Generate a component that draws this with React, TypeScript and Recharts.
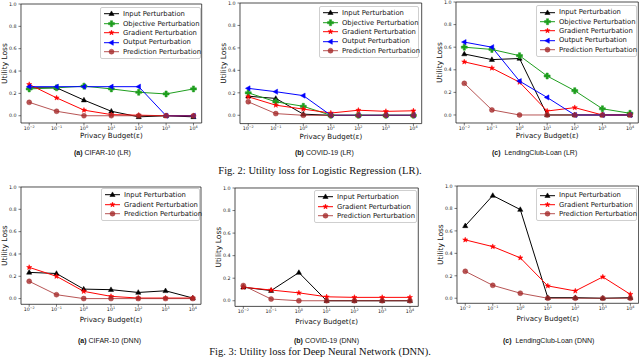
import React from 'react';
import { LineChart, Line, XAxis, YAxis, Legend, ReferenceArea } from 'recharts';

// privacy budget exponents: 10^-2 ... 10^4
const EXPONENTS = [-2, -1, 0, 1, 2, 3, 4];
const Y_TICKS = [0, 0.2, 0.4, 0.6, 0.8, 1.0];

// Fig. 2 - Logistic Regression
const cifarLrInput = [0.25, 0.25, 0.14, 0.04, -0.01, 0.0, -0.01];
const cifarLrObjective = [0.24, 0.25, 0.265, 0.24, 0.21, 0.195, 0.24];
const cifarLrGradient = [0.28, 0.16, 0.05, 0.01, 0.005, 0.0, 0.0];
const cifarLrOutput = [0.26, 0.26, 0.26, 0.26, 0.26, 0.0, 0.0];
const cifarLrPrediction = [0.12, 0.04, 0.0, 0.0, 0.0, 0.0, 0.0];

const covidLrInput = [0.17, 0.15, 0.01, 0.0, 0.0, 0.0, 0.0];
const covidLrObjective = [0.2, 0.12, 0.08, 0.0, 0.0, 0.0, 0.0];
const covidLrGradient = [0.165, 0.09, 0.055, 0.02, 0.045, 0.035, 0.04];
const covidLrOutput = [0.24, 0.21, 0.175, 0.0, 0.0, 0.0, 0.0];
const covidLrPrediction = [0.12, 0.015, 0.0, 0.0, 0.0, 0.0, 0.0];

const loanLrInput = [0.54, 0.49, 0.5, 0.0, 0.0, 0.0, 0.0];
const loanLrObjective = [0.6, 0.58, 0.525, 0.345, 0.215, 0.055, 0.015];
const loanLrGradient = [0.47, 0.415, 0.29, 0.035, 0.065, 0.0, 0.0];
const loanLrOutput = [0.645, 0.6, 0.3, 0.155, 0.0, 0.0, 0.0];
const loanLrPrediction = [0.28, 0.045, 0.0, 0.0, 0.0, 0.0, 0.0];

// Fig. 3 - Deep Neural Network
const cifarDnnInput = [0.235, 0.225, 0.085, 0.08, 0.055, 0.07, 0.005];
const cifarDnnGradient = [0.28, 0.2, 0.065, 0.02, 0.005, 0.005, 0.005];
const cifarDnnPrediction = [0.155, 0.035, 0.0, 0.0, 0.0, 0.0, 0.0];

const covidDnnInput = [0.12, 0.09, 0.25, 0.0, 0.0, 0.0, 0.0];
const covidDnnGradient = [0.12, 0.095, 0.07, 0.035, 0.03, 0.03, 0.03];
const covidDnnPrediction = [0.135, 0.015, 0.0, 0.0, 0.0, 0.0, 0.0];

const loanDnnInput = [0.645, 0.915, 0.79, 0.005, 0.005, 0.0, 0.005];
const loanDnnGradient = [0.52, 0.46, 0.36, 0.11, 0.065, 0.19, 0.035];
const loanDnnPrediction = [0.24, 0.115, 0.045, 0.0, 0.0, 0.0, 0.0];

type MarkerKind = 'triangle' | 'plus' | 'star' | 'left' | 'circle';

const SERIES: Record<string, { name: string; color: string; marker: MarkerKind; opacity?: number }> = {
  input: { name: 'Input Perturbation', color: '#000000', marker: 'triangle' },
  objective: { name: 'Objective Perturbation', color: '#1e9e1e', marker: 'plus' },
  gradient: { name: 'Gradient Perturbation', color: '#ff0000', marker: 'star' },
  output: { name: 'Output Perturbation', color: '#0000ff', marker: 'left' },
  prediction: { name: 'Prediction Perturbation', color: '#a52a2a', marker: 'circle', opacity: 0.8 },
};

const FONT = '"DejaVu Sans", sans-serif';
const X_MIN = -2.3;
const X_MAX = 4.3;
const YW = 24;
const XH = 20;
const MT = 2;
const MR = 1;

function Marker({ kind, cx, cy, color, opacity = 1 }: { kind: MarkerKind; cx: number; cy: number; color: string; opacity?: number }) {
  const common = { fill: color, stroke: color, strokeWidth: 0.5, fillOpacity: opacity, strokeOpacity: opacity };
  if (kind === 'triangle') {
    return <polygon {...common} points={`${cx},${cy - 2.8} ${cx - 2.6},${cy + 1.8} ${cx + 2.6},${cy + 1.8}`} />;
  }
  if (kind === 'left') {
    return <polygon {...common} points={`${cx - 2.8},${cy} ${cx + 1.8},${cy - 2.6} ${cx + 1.8},${cy + 2.6}`} />;
  }
  if (kind === 'plus') {
    const a = 3;
    const b = 1.1;
    const pts = [
      [-b, -a], [b, -a], [b, -b], [a, -b], [a, b], [b, b], [b, a], [-b, a], [-b, b], [-a, b], [-a, -b], [-b, -b],
    ]
      .map(([dx, dy]) => `${cx + dx},${cy + dy}`)
      .join(' ');
    return <polygon {...common} points={pts} />;
  }
  if (kind === 'star') {
    const pts: string[] = [];
    for (let i = 0; i < 10; i++) {
      const r = i % 2 === 0 ? 2.7 : 1.1;
      const ang = -Math.PI / 2 + (i * Math.PI) / 5;
      pts.push(`${cx + r * Math.cos(ang)},${cy + r * Math.sin(ang)}`);
    }
    return <polygon {...common} points={pts.join(' ')} />;
  }
  return <circle {...common} cx={cx} cy={cy} r={2.5} />;
}

const ExpTick = (props: any) => {
  const { x, y, payload } = props;
  const e = payload.value;
  const sup = e < 0 ? `\u2212${-e}` : `${e}`;
  return (
    <text x={x} y={y + 3.2} textAnchor="middle" fontSize={4.8} fill="#222" fontFamily={FONT}>
      <tspan>10</tspan>
      <tspan dy={-2} fontSize={3.4}>
        {sup}
      </tspan>
    </text>
  );
};

interface Panel {
  frame: { x: number; y: number; w: number; h: number };
  yMin: number;
  labelDrop: number;
  legend: { left: number; top: number; width: number };
  series: Record<string, number[]>;
}

const PANELS: Panel[] = [
  {
    frame: { x: 21, y: 4.3, w: 180.7, h: 119 },
    yMin: -0.065,
    labelDrop: 15.3,
    legend: { left: 100, top: 7, width: 101 },
    series: { input: cifarLrInput, objective: cifarLrObjective, gradient: cifarLrGradient, output: cifarLrOutput, prediction: cifarLrPrediction },
  },
  {
    frame: { x: 240, y: 2.7, w: 181.7, h: 120.6 },
    yMin: -0.074,
    labelDrop: 15.3,
    legend: { left: 319, top: 6, width: 100 },
    series: { input: covidLrInput, objective: covidLrObjective, gradient: covidLrGradient, output: covidLrOutput, prediction: covidLrPrediction },
  },
  {
    frame: { x: 455.7, y: 1.7, w: 182.3, h: 121 },
    yMin: -0.071,
    labelDrop: 15.3,
    legend: { left: 536, top: 5, width: 101 },
    series: { input: loanLrInput, objective: loanLrObjective, gradient: loanLrGradient, output: loanLrOutput, prediction: loanLrPrediction },
  },
  {
    frame: { x: 21, y: 186.7, w: 180, h: 117.3 },
    yMin: -0.051,
    labelDrop: 17.5,
    legend: { left: 101, top: 188, width: 99 },
    series: { input: cifarDnnInput, gradient: cifarDnnGradient, prediction: cifarDnnPrediction },
  },
  {
    frame: { x: 235, y: 188.3, w: 183.3, h: 118.4 },
    yMin: -0.05,
    labelDrop: 17.5,
    legend: { left: 314, top: 190, width: 103 },
    series: { input: covidDnnInput, gradient: covidDnnGradient, prediction: covidDnnPrediction },
  },
  {
    frame: { x: 456.7, y: 186, w: 181.6, h: 117.3 },
    yMin: -0.045,
    labelDrop: 17.5,
    legend: { left: 536, top: 188, width: 101 },
    series: { input: loanDnnInput, gradient: loanDnnGradient, prediction: loanDnnPrediction },
  },
];

const CAPTIONS = [
  { tag: '(a)', text: 'CIFAR-10 (LR)', left: 74, top: 149 },
  { tag: '(b)', text: 'COVID-19 (LR)', left: 295, top: 149 },
  { tag: '(c)', text: ' LendingClub-Loan (LR)', left: 492, top: 149 },
  { tag: '(a)', text: 'CIFAR-10 (DNN)', left: 78, top: 337 },
  { tag: '(b)', text: 'COVID-19 (DNN)', left: 294, top: 337 },
  { tag: '(c)', text: ' LendingClub-Loan (DNN)', left: 503, top: 337 },
];

const FIG_TITLES = [
  { text: 'Fig. 2: Utility loss for Logistic Regression (LR).', top: 165 },
  { text: 'Fig. 3: Utility loss for Deep Neural Network (DNN).', top: 346 },
];

function LegendBox({ keys, width }: { keys: string[]; width: number }) {
  return (
    <div
      style={{
        width,
        boxSizing: 'border-box',
        border: '0.8px solid #cfcfcf',
        borderRadius: 2,
        background: 'rgba(255,255,255,0.85)',
        padding: '1.5px 0 1.5px 0',
        fontFamily: FONT,
        fontSize: 6.8,
        color: '#111',
      }}
    >
      {keys.map(k => {
        const s = SERIES[k];
        return (
          <div key={k} style={{ display: 'flex', alignItems: 'center', height: 9.4, whiteSpace: 'nowrap' }}>
            <svg width={22} height={9.4} style={{ flex: 'none' }}>
              <line x1={3} x2={18} y1={4.7} y2={4.7} stroke={s.color} strokeWidth={1} strokeOpacity={s.opacity ?? 1} />
              <Marker kind={s.marker} cx={10.5} cy={4.7} color={s.color} opacity={s.opacity} />
            </svg>
            <span>{s.name}</span>
          </div>
        );
      })}
    </div>
  );
}

function PanelChart({ panel }: { panel: Panel }) {
  const { frame, yMin, legend, series, labelDrop } = panel;
  const keys = Object.keys(series);
  const data = EXPONENTS.map((x, i) => {
    const row: Record<string, number> = { x };
    keys.forEach(k => {
      row[k] = series[k][i];
    });
    return row;
  });
  const left = frame.x - YW;
  const top = frame.y - MT;
  const width = YW + frame.w + MR;
  const height = MT + frame.h + XH;

  return (
    <div style={{ position: 'absolute', left, top }}>
      <LineChart width={width} height={height} data={data} margin={{ top: MT, right: MR, left: 0, bottom: 0 }}>
        <XAxis
          type="number"
          dataKey="x"
          domain={[X_MIN, X_MAX]}
          ticks={EXPONENTS}
          allowDataOverflow
          height={XH}
          axisLine={false}
          tickSize={2.5}
          tickMargin={1}
          tickLine={{ stroke: '#222', strokeWidth: 0.6 }}
          tick={<ExpTick />}
          label={{
            value: 'Privacy Budget(\u03b5)',
            position: 'insideBottom',
            offset: XH - labelDrop,
            style: { fontSize: 7.1, fill: '#111', fontFamily: FONT },
          }}
        />
        <YAxis
          type="number"
          domain={[yMin, 1]}
          ticks={Y_TICKS}
          allowDataOverflow
          width={YW}
          axisLine={false}
          tickSize={2.5}
          tickMargin={2}
          tickLine={{ stroke: '#222', strokeWidth: 0.6 }}
          tick={{ fontSize: 4.8, fill: '#222', fontFamily: FONT }}
          tickFormatter={(v: number) => v.toFixed(1)}
          label={{
            value: 'Utility Loss',
            angle: -90,
            position: 'insideLeft',
            offset: YW - 16.5,
            style: { textAnchor: 'middle', fontSize: 7.5, fill: '#111', fontFamily: FONT },
          }}
        />
        <ReferenceArea x1={X_MIN} x2={X_MAX} y1={yMin} y2={1} fill="none" stroke="#222" strokeWidth={0.8} />
        {keys.map(k => {
          const s = SERIES[k];
          return (
            <Line
              key={k}
              type="linear"
              dataKey={k}
              name={s.name}
              stroke={s.color}
              strokeOpacity={s.opacity ?? 1}
              strokeWidth={1}
              isAnimationActive={false}
              activeDot={false}
              dot={(p: any) => (
                <Marker key={`${k}-${p.index}`} kind={s.marker} cx={p.cx} cy={p.cy} color={s.color} opacity={s.opacity} />
              )}
            />
          );
        })}
        <Legend
          layout="vertical"
          align="center"
          verticalAlign="middle"
          wrapperStyle={{ position: 'absolute', left: legend.left - left, top: legend.top - top, width: legend.width }}
          content={() => <LegendBox keys={keys} width={legend.width} />}
        />
      </LineChart>
    </div>
  );
}

export default function App() {
  return (
    <div style={{ position: 'relative', width: 640, height: 358, overflow: 'hidden', background: '#fff' }}>
      <style>{'body{margin:0}'}</style>
      {PANELS.map((p, i) => (
        <PanelChart key={i} panel={p} />
      ))}
      {CAPTIONS.map((c, i) => (
        <div
          key={i}
          style={{
            position: 'absolute',
            left: c.left,
            top: c.top,
            fontFamily: '"Liberation Sans", Arial, sans-serif',
            fontSize: 7,
            lineHeight: '7px',
            whiteSpace: 'pre',
            color: '#111',
          }}
        >
          <b>{c.tag}</b> {c.text}
        </div>
      ))}
      {FIG_TITLES.map((f, i) => (
        <div
          key={i}
          style={{
            position: 'absolute',
            left: 0,
            width: 640,
            top: f.top,
            textAlign: 'center',
            fontFamily: '"Liberation Serif", "DejaVu Serif", serif',
            fontSize: 10.5,
            lineHeight: '11px',
            color: '#111',
          }}
        >
          {f.text}
        </div>
      ))}
    </div>
  );
}
